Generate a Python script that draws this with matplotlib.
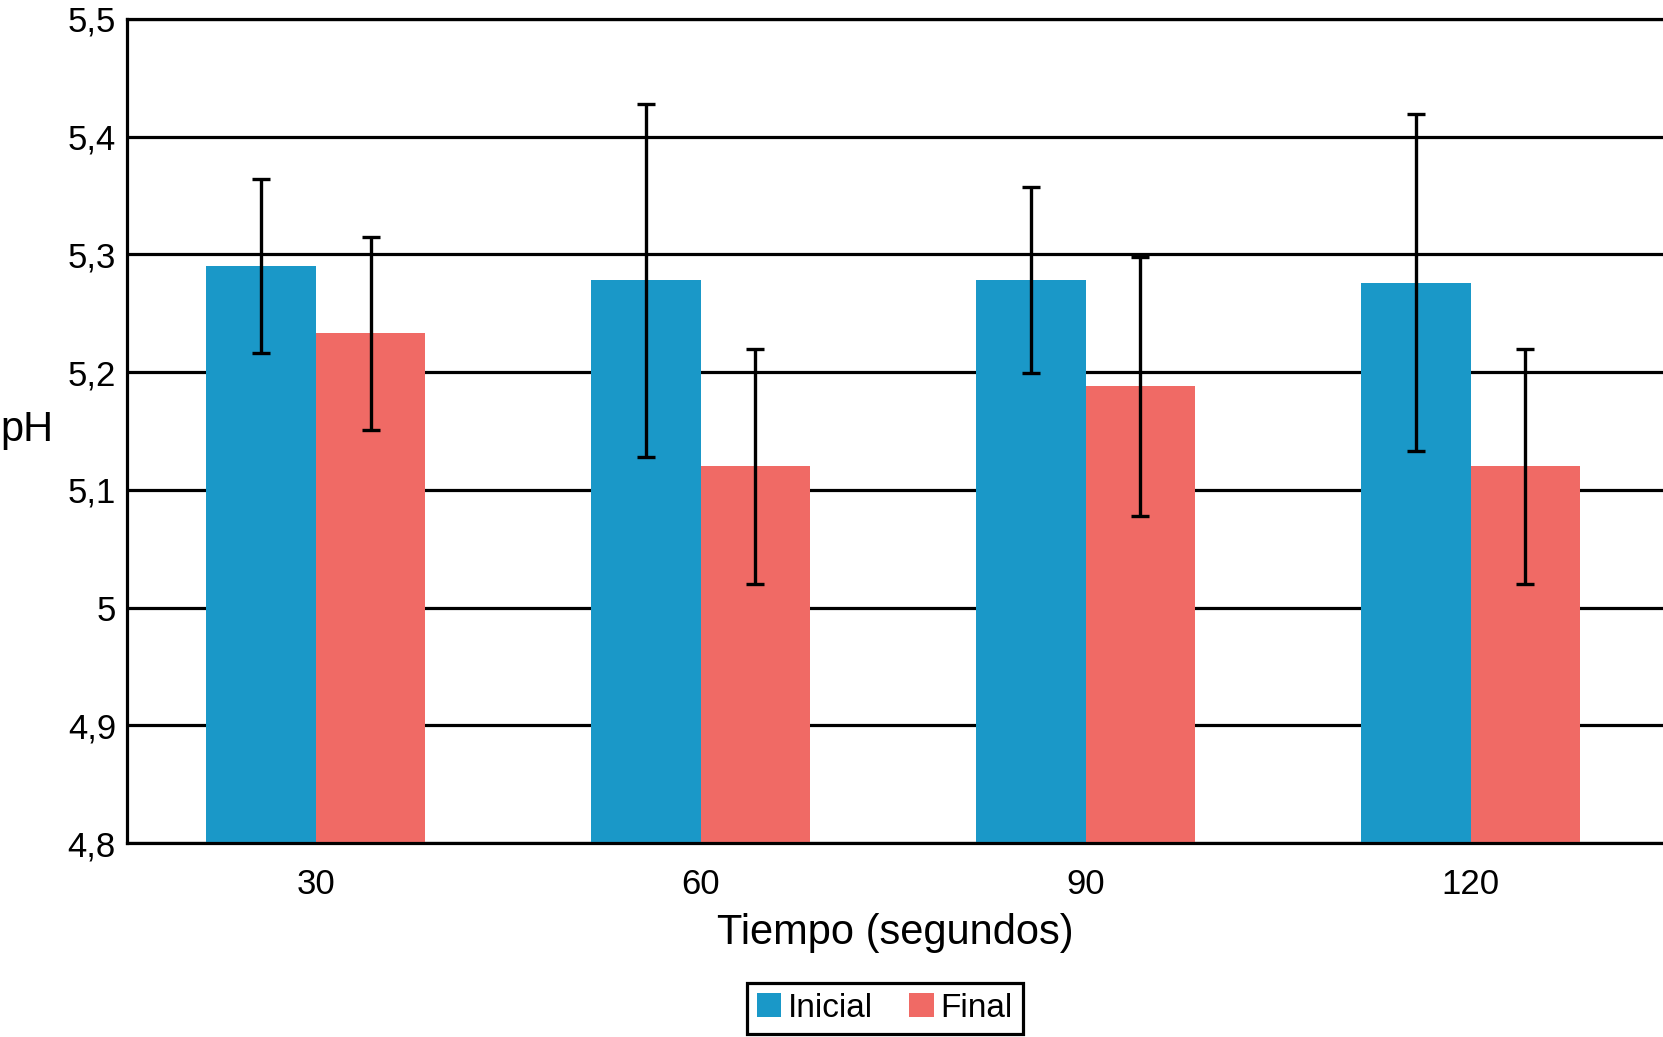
import numpy as np
import matplotlib.pyplot as plt

plt.rcParams['font.family'] = ['Liberation Sans', 'DejaVu Sans']

tiempos = ["30", "60", "90", "120"]
inicial = [5.29, 5.278, 5.278, 5.276]
inicial_err = [0.074, 0.15, 0.079, 0.143]
final = [5.233, 5.12, 5.188, 5.12]
final_err = [0.082, 0.10, 0.11, 0.10]
yticks = [4.8, 4.9, 5.0, 5.1, 5.2, 5.3, 5.4, 5.5]
ytick_labels = ["4,8", "4,9", "5", "5,1", "5,2", "5,3", "5,4", "5,5"]

azul = "#1A98C8"
rojo = "#F06A65"

fig = plt.figure(figsize=(16.63, 10.37), dpi=100)
ax = fig.add_axes([0.0764, 0.187, 0.9236, 0.7947])

x = np.arange(len(tiempos))
w = 0.285

ax.bar(x - w / 2, inicial, w, color=azul, label="Inicial", zorder=2)
ax.bar(x + w / 2, final, w, color=rojo, label="Final", zorder=2)
ax.errorbar(x - w / 2, inicial, yerr=inicial_err, fmt="none", ecolor="black",
            elinewidth=2.4, capsize=6.5, capthick=2.4, zorder=3)
ax.errorbar(x + w / 2, final, yerr=final_err, fmt="none", ecolor="black",
            elinewidth=2.4, capsize=6.5, capthick=2.4, zorder=3)

ax.set_ylim(4.8, 5.5)
ax.set_xlim(-0.49, 3.5)
ax.set_yticks(yticks)
ax.set_yticklabels(ytick_labels)
ax.set_xticks(x)
ax.set_xticklabels(tiempos)
ax.tick_params(axis="both", length=0, labelsize=25)
ax.tick_params(axis="y", pad=8)
ax.tick_params(axis="x", pad=18)

ax.yaxis.grid(True, color="black", linewidth=2.3, zorder=1)
ax.set_axisbelow(True)
for s in ["left", "top", "bottom"]:
    ax.spines[s].set_linewidth(2.3)
ax.spines["right"].set_visible(False)

ax.set_xlabel("Tiempo (segundos)", fontsize=30, va="baseline")
ax.xaxis.set_label_coords(0.5, -0.1226)
ax.set_ylabel("pH", fontsize=30, rotation=0, ha="left", va="center")
ax.yaxis.set_label_coords(-0.0827, 0.501)

leg = fig.legend(loc="lower center", bbox_to_anchor=(0.532, 0.003), ncol=2,
                 fontsize=24, frameon=True, fancybox=False, framealpha=1,
                 edgecolor="black", handlelength=0.73, handleheight=0.73,
                 handletextpad=0.2, columnspacing=1.1, borderpad=0.3,
                 borderaxespad=0)
leg.get_frame().set_linewidth(2.3)

fig.savefig("out.png", dpi=100)
